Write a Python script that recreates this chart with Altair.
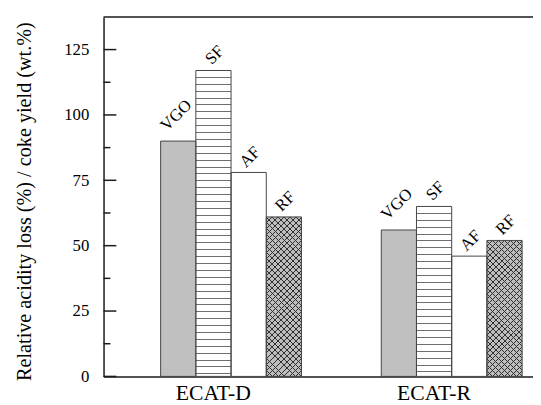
import altair as alt
import pandas as pd

# ---------------- data ----------------
groups = ["ECAT-D", "ECAT-R"]
fuels = ["VGO", "SF", "AF", "RF"]
ecat_d = [90, 117, 78, 61]
ecat_r = [56, 65, 46, 52]
y_major = [0, 25, 50, 75, 100, 125]
y_minor = [12.5, 37.5, 62.5, 87.5, 112.5]
y_title = "Relative acidity loss (%) / coke yield (wt.%)"

rows = []
for g, vals in zip(groups, [ecat_d, ecat_r]):
    for f, v in zip(fuels, vals):
        rows.append({"group": g, "fuel": f, "value": v})
df = pd.DataFrame(rows)

# ---------------- layout / style ----------------
PLOT_W, PLOT_H = 436, 365
Y_MAX = 137.5
PAD_INNER, PAD_OUTER, ALIGN = 0.3616, 0.154, 0.84
FONT = "Liberation Serif"
AXIS_COLOR = "#1a1a1a"
EDGE = "#444444"
VGO_FILL = "#c0c0c0"
RF_FILL = "#bdbdbd"
STRIPE = "#6e6e6e"
HATCH = "#303030"
CLEAR = "rgba(0,0,0,0)"

step = PLOT_W / (len(groups) - PAD_INNER + 2 * PAD_OUTER)
BAR_W = step * (1 - PAD_INNER) / len(fuels)
PX = PLOT_H / Y_MAX


def stops_from(lines, total, lw, bg, fg):
    st = [{"offset": 0, "color": bg}]
    for c in lines:
        a = max(0.0, (c - lw / 2) / total)
        b = min(1.0, (c + lw / 2) / total)
        st += [{"offset": a, "color": bg}, {"offset": a, "color": fg},
               {"offset": b, "color": fg}, {"offset": b, "color": bg}]
    st.append({"offset": 1, "color": bg})
    return st


def hstripes(value, spacing=7, lw=1.0):
    # horizontal hatch lines every `spacing` px, counted from the bar's top
    h = value * PX
    lines = [i * spacing for i in range(1, int(h // spacing) + 1) if i * spacing < h - 1]
    return {"gradient": "linear", "x1": 0, "y1": 0, "x2": 0, "y2": 1,
            "stops": stops_from(lines, h, lw, "#ffffff", STRIPE)}


def diag(value, direction, spacing=6, lw=1.0):
    # 45-degree hatch lines; the gradient runs along x+y (or x-y) in pixels
    w, h = BAR_W, value * PX
    total = w + h
    lines = [i * spacing for i in range(1, int(total // spacing) + 1) if i * spacing < total]
    lam = (w + h) / (w * w + h * h)
    if direction == "/":
        g = {"x1": 0, "y1": 0, "x2": lam * w, "y2": lam * h}
    else:
        g = {"x1": 0, "y1": 1, "x2": lam * w, "y2": 1 - lam * h}
    g.update({"gradient": "linear", "stops": stops_from(lines, total, lw, CLEAR, HATCH)})
    return g


x_enc = alt.X("group:N",
              scale=alt.Scale(domain=groups, paddingInner=PAD_INNER,
                              paddingOuter=PAD_OUTER, align=ALIGN),
              axis=alt.Axis(title=None, ticks=False, tickSize=0, labelPadding=6,
                            labelFontSize=22, labelColor="black", labelOffset=-18,
                            labelAngle=0, domainColor=AXIS_COLOR, domainWidth=1.5))
xo_enc = alt.XOffset("fuel:N", scale=alt.Scale(domain=fuels, paddingInner=0, paddingOuter=0))
y_enc = alt.Y("value:Q",
              scale=alt.Scale(domain=[0, Y_MAX], nice=False, zero=True),
              axis=alt.Axis(values=y_major, title=y_title, ticks=False, tickSize=0,
                            labelPadding=15, labelFontSize=17,
                            labelColor="black", grid=False,
                            domainColor=AXIS_COLOR, domainWidth=1.5,
                            titleFontSize=20.5, titleFontWeight="normal",
                            titleColor="black", titleAngle=270, titleAlign="center",
                            titleBaseline="alphabetic", titleX=-74, titleY=187))

base = alt.Chart(df).encode(x=x_enc, xOffset=xo_enc, y=y_enc)

fill_layer = base.mark_bar(strokeWidth=0).encode(
    fill=alt.Fill("fuel:N", scale=alt.Scale(domain=fuels,
                                            range=[VGO_FILL, "#ffffff", "#ffffff", RF_FILL]),
                  legend=None))

val = {(r["group"], r["fuel"]): r["value"] for r in rows}
pattern_layers = []
for g in groups:
    pattern_layers.append(
        base.transform_filter(f"datum.group == '{g}' && datum.fuel == 'SF'")
        .mark_bar(fill=hstripes(val[(g, 'SF')]), strokeWidth=0))
    for d in ["/", "\\"]:
        pattern_layers.append(
            base.transform_filter(f"datum.group == '{g}' && datum.fuel == 'RF'")
            .mark_bar(fill=diag(val[(g, 'RF')], d), strokeWidth=0))

outline = base.mark_bar(fillOpacity=0, stroke=EDGE, strokeWidth=1)

# dx/dy of a rotated text are applied in the rotated frame (angle 315)
labels_vgo = base.transform_filter("datum.fuel == 'VGO'").mark_text(
    angle=315, align="center", baseline="middle", dx=17, dy=-19.8,
    font=FONT, fontSize=17, color="black").encode(text="fuel:N")
labels_rest = base.transform_filter("datum.fuel != 'VGO'").mark_text(
    angle=315, align="center", baseline="middle", dx=12, dy=-10,
    font=FONT, fontSize=17, color="black").encode(text="fuel:N")

ticks_major = alt.Chart(pd.DataFrame({"value": y_major})).mark_rule(
    color=AXIS_COLOR, strokeWidth=1.5).encode(y=y_enc, x=alt.value(0), x2=alt.value(13))
ticks_minor = alt.Chart(pd.DataFrame({"value": y_minor})).mark_rule(
    color=AXIS_COLOR, strokeWidth=1.5).encode(y=y_enc, x=alt.value(0), x2=alt.value(7))
top_line = alt.Chart(pd.DataFrame({"value": [Y_MAX]})).mark_rule(
    color=AXIS_COLOR, strokeWidth=1.5).encode(y=alt.value(0), x=alt.value(0), x2=alt.value(PLOT_W))

chart = alt.layer(
    fill_layer, *pattern_layers, outline, labels_vgo, labels_rest,
    ticks_major, ticks_minor, top_line
).properties(
    width=PLOT_W, height=PLOT_H,
    padding={"left": 97, "top": 6, "right": 0, "bottom": 26},
    autosize=alt.AutoSizeParams(type="none"),
    background="white",
).configure_view(stroke=None).configure_axis(
    labelFont=FONT, titleFont=FONT
).configure_text(font=FONT)

chart.save("out.html", embed_options={"renderer": "svg", "actions": False})
